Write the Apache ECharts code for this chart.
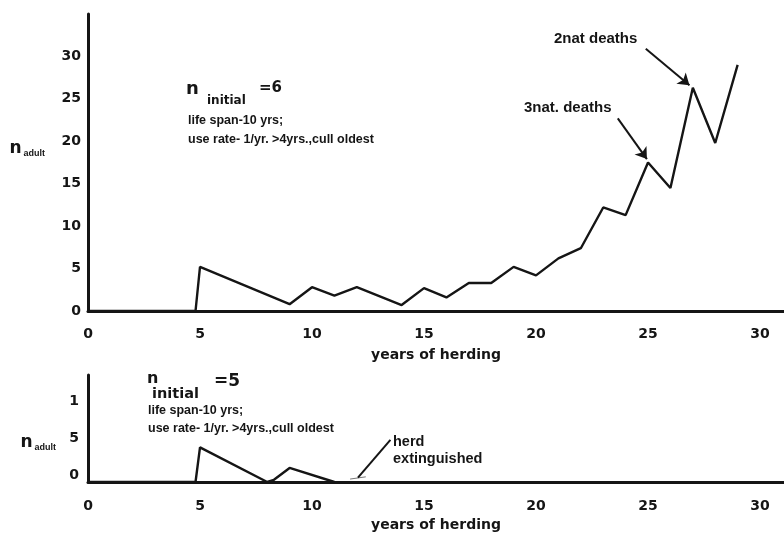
<!DOCTYPE html>
<html>
<head>
<meta charset="utf-8">
<script src="https://cdn.jsdelivr.net/npm/echarts@6/dist/echarts.min.js"></script>
<style>
  html, body { margin: 0; padding: 0; background: #fff; }
  #c { width: 784px; height: 534px; }
</style>
</head>
<body>
<div id="c"></div>
<script>
// Herd simulations: adult count against years of herding
const yearTicks = [0, 5, 10, 15, 20, 25, 30];

// initial herd of 6
const herd6Years  = [0, 4.8, 5, 9, 10, 11, 12, 14, 15, 16, 17, 18, 19, 20, 21, 22, 23, 24, 25, 26, 27, 28, 29];
const herd6Adults = [0, 0, 5.2, 0.8, 2.8, 1.8, 2.8, 0.7, 2.7, 1.6, 3.3, 3.3, 5.2, 4.2, 6.2, 7.4, 12.2, 11.3, 17.5, 14.5, 26.3, 19.8, 29];
const herd6Ticks  = [0, 5, 10, 15, 20, 25, 30];

// initial herd of 5
const herd5Years  = [0, 4.8, 5, 8, 8.3, 9, 11];
const herd5Adults = [0, 0, 4.7, 0, 0.3, 1.9, 0];
const herd5Trace  = [[11.7, 0.4], [12.4, 0.7]];
const herd5Ticks  = ['0', '5', '1'];

const FONT = 'DejaVu Sans';
const NARROW = 'Liberation Sans';
const INK = '#151515';

const pairs = (xs, ys) => xs.map((x, i) => [x, ys[i]]);

function xAxisFor(gridIndex) {
  return {
    gridIndex, type: 'value', min: 0, max: 31.07, interval: 5,
    axisLine: { lineStyle: { color: INK, width: 3 } },
    axisTick: { show: false }, splitLine: { show: false },
    axisLabel: {
      showMaxLabel: false, margin: gridIndex === 0 ? 16 : 17, color: INK,
      fontFamily: FONT, fontWeight: 'bold', fontSize: 14,
      formatter: v => yearTicks.includes(v) ? String(v) : ''
    },
    name: 'years of herding', nameLocation: 'middle', nameGap: gridIndex === 0 ? 37 : 36,
    nameTextStyle: { color: INK, fontFamily: FONT, fontWeight: 'bold', fontSize: 14 }
  };
}

const nameRich = {
  n: { fontFamily: FONT, fontSize: 17, fontWeight: 'bold', color: INK },
  s: { fontFamily: NARROW, fontSize: 9, fontWeight: 'bold', color: INK, padding: [10, 0, 0, 2] }
};

// subscripted "n initial = k" note
function herdNote(x, y, nSize, subSize, subDx, subDy, eqDx, eqDy, eqSize, eqText) {
  return [
    { type: 'text', left: x, top: y,
      style: { text: 'n', font: `bold ${nSize}px "${FONT}"`, fill: INK } },
    { type: 'text', left: x + subDx, top: y + subDy,
      style: { text: 'initial', font: `bold ${subSize}px "${FONT}"`, fill: INK } },
    { type: 'text', left: x + eqDx, top: y + eqDy,
      style: { text: eqText, font: `bold ${eqSize}px "${FONT}"`, fill: INK } }
  ];
}

const chart = echarts.init(document.getElementById('c'), null, { renderer: 'canvas' });

chart.setOption({
  animation: false,
  backgroundColor: '#fff',
  grid: [
    { left: 88, top: 14, width: 696, height: 297 },
    { left: 88, top: 375, width: 696, height: 107 }
  ],
  xAxis: [xAxisFor(0), xAxisFor(1)],
  yAxis: [
    {
      gridIndex: 0, type: 'value', min: 0, max: 35, interval: 5,
      axisLine: { show: true, lineStyle: { color: INK, width: 3 } },
      axisTick: { show: false }, splitLine: { show: false },
      axisLabel: {
        showMaxLabel: false, margin: 7, color: INK,
        fontFamily: FONT, fontWeight: 'bold', fontSize: 14,
        formatter: v => herd6Ticks.includes(v) ? String(v) : ''
      },
      name: '{n|n}{s|adult}', nameLocation: 'middle', nameRotate: 0, nameGap: 43,
      nameTextStyle: { rich: nameRich, padding: [0, 0, 28, 0] }
    },
    {
      gridIndex: 1, type: 'value', min: 0, max: 14.5, interval: 5,
      axisLine: { show: true, lineStyle: { color: INK, width: 3 } },
      axisTick: { show: false }, splitLine: { show: false },
      axisLabel: {
        showMaxLabel: false, margin: 9, color: INK, verticalAlign: 'bottom',
        fontFamily: FONT, fontWeight: 'bold', fontSize: 14,
        formatter: v => (v % 5 === 0 && v / 5 < herd5Ticks.length) ? herd5Ticks[v / 5] : ''
      },
      name: '{n|n}{s|adult}', nameLocation: 'middle', nameRotate: 0, nameGap: 32,
      nameTextStyle: { rich: nameRich, padding: [28, 0, 0, 0] }
    }
  ],
  series: [
    {
      type: 'line', xAxisIndex: 0, yAxisIndex: 0,
      data: pairs(herd6Years, herd6Adults),
      showSymbol: false, silent: true,
      lineStyle: { color: INK, width: 2.4 },
      markLine: {
        silent: true, symbol: ['none', 'arrow'], symbolSize: 11,
        label: { show: false },
        lineStyle: { color: INK, width: 2, type: 'solid' },
        data: [
          [{ coord: [24.9, 30.9] }, { coord: [26.85, 26.6] }],
          [{ coord: [23.65, 22.7] }, { coord: [24.95, 17.9] }]
        ]
      }
    },
    {
      type: 'line', xAxisIndex: 1, yAxisIndex: 1,
      data: pairs(herd5Years, herd5Adults),
      showSymbol: false, silent: true,
      lineStyle: { color: INK, width: 2.4 },
      markLine: {
        silent: true, symbol: ['none', 'none'],
        label: { show: false },
        lineStyle: { color: INK, width: 2, type: 'solid' },
        data: [[{ coord: [13.5, 5.7] }, { coord: [12.05, 0.6] }]]
      }
    },
    {
      type: 'line', xAxisIndex: 1, yAxisIndex: 1,
      data: herd5Trace, showSymbol: false, silent: true,
      lineStyle: { color: '#777', width: 1 }
    }
  ],
  graphic: [
    // herd of 6 settings
    ...herdNote(186, 80, 18, 12, 21, 15, 73, 1, 15, '=6'),
    {
      type: 'text', left: 188, top: 111,
      style: {
        text: 'life span-10 yrs;\nuse rate- 1/yr. >4yrs.,cull oldest',
        font: 'bold 12.5px "Liberation Sans"', lineHeight: 19, fill: INK
      }
    },
    // herd of 5 settings
    ...herdNote(147, 371, 16, 14.5, 5, 16, 67, 2, 17, '=5'),
    {
      type: 'text', left: 148, top: 402,
      style: {
        text: 'life span-10 yrs;\nuse rate- 1/yr. >4yrs.,cull oldest',
        font: 'bold 12.5px "Liberation Sans"', lineHeight: 18, fill: INK
      }
    },
    // event notes
    {
      type: 'text', left: 554, top: 31,
      style: { text: '2nat deaths', font: 'bold 15px "Liberation Sans"', fill: INK }
    },
    {
      type: 'text', left: 524, top: 100,
      style: { text: '3nat. deaths', font: 'bold 15px "Liberation Sans"', fill: INK }
    },
    {
      type: 'text', left: 393, top: 433,
      style: { text: 'herd\nextinguished', font: 'bold 14.5px "Liberation Sans"', lineHeight: 17, fill: INK }
    }
  ]
});
</script>
</body>
</html>
